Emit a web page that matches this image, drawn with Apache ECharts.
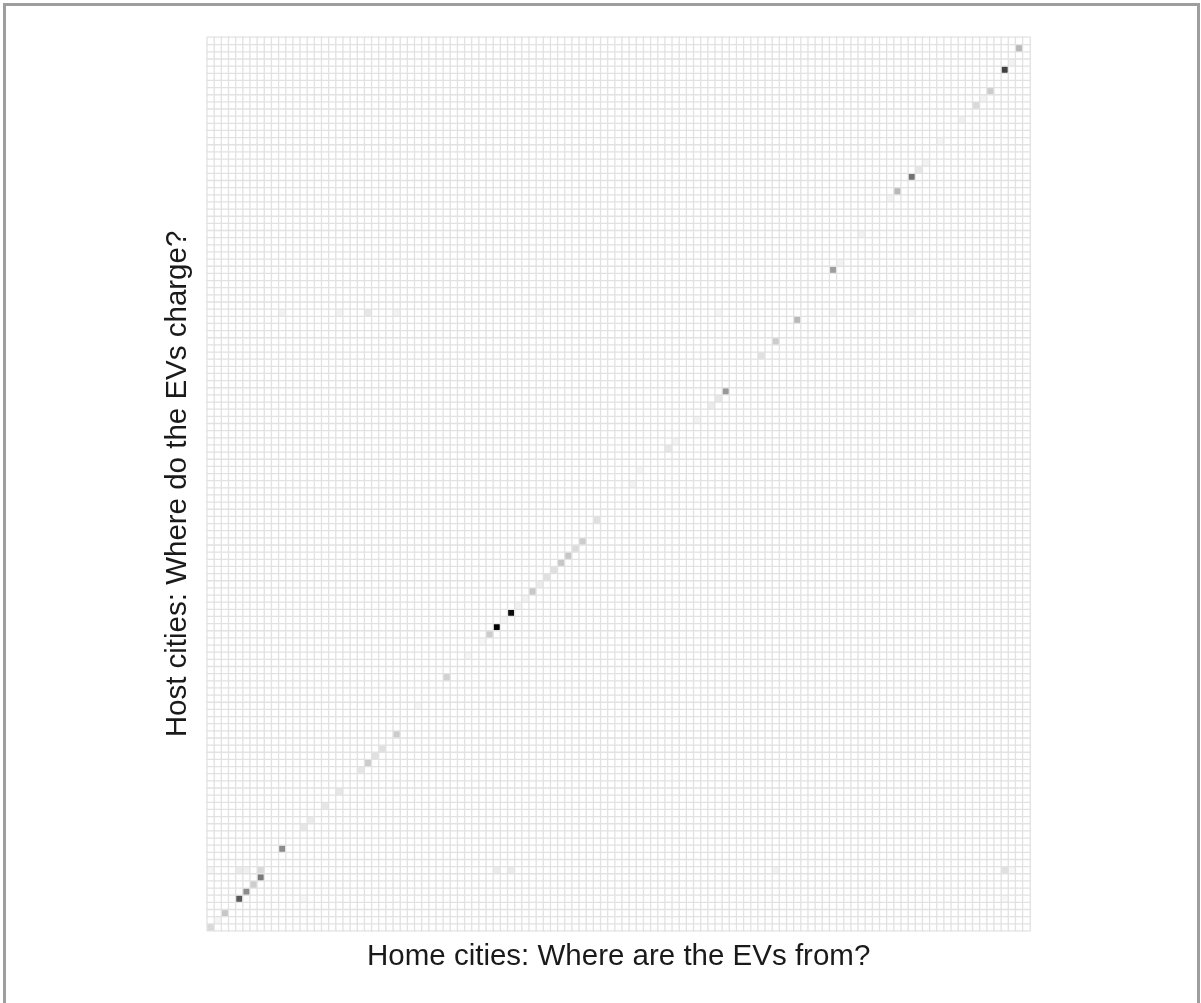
<!DOCTYPE html>
<html>
<head>
<meta charset="utf-8">
<title>EV charging flows between cities</title>
<script src="https://cdn.jsdelivr.net/npm/echarts@6/dist/echarts.min.js"></script>
<style>
  html, body { margin: 0; padding: 0; background: #ffffff; }
  #chart { width: 1201px; height: 1003px; }
</style>
</head>
<body>
<div id="chart"></div>
<script>
// Home cities (x axis) and host cities (y axis); labels are not drawn.
const homeCityCount = 115;
const hostCityCount = 125;
const homeCities = Array.from({ length: homeCityCount }, (_, i) => 'Home ' + (i + 1));
const hostCities = Array.from({ length: hostCityCount }, (_, i) => 'Host ' + (i + 1));

// Charging sessions share (0-100) per [home index, host index]; all other pairs are 0.
const flowCells = [
  [0, 0, 15], [1, 1, 4], [2, 2, 22], [4, 4, 65], [5, 5, 45], [6, 6, 20], [7, 7, 52],
  [13, 4, 3], [111, 4, 3],
  [0, 8, 4], [4, 8, 8], [5, 8, 6], [7, 8, 15], [40, 8, 8], [42, 8, 8], [79, 8, 5], [111, 8, 12], [112, 8, 3],
  [10, 11, 45],
  [13, 14, 10], [14, 15, 8], [16, 17, 10], [18, 19, 10], [21, 22, 10], [22, 23, 20], [23, 24, 12],
  [24, 25, 12], [26, 27, 20], [29, 31, 4], [33, 35, 18], [36, 38, 4], [38, 40, 4], [39, 41, 20],
  [40, 42, 100], [41, 43, 4], [42, 44, 95], [43, 45, 5], [44, 46, 5], [45, 47, 22], [46, 48, 8],
  [47, 49, 12], [48, 50, 12], [49, 51, 22], [50, 52, 22], [51, 53, 14], [52, 54, 20], [54, 57, 12],
  [59, 62, 5], [60, 64, 4], [64, 67, 10], [65, 68, 5], [68, 71, 5], [70, 73, 8], [71, 74, 10],
  [72, 75, 40], [77, 80, 12], [79, 82, 20], [82, 85, 28],
  [10, 86, 5], [18, 86, 5], [22, 86, 10], [26, 86, 5], [46, 86, 3], [71, 86, 4], [87, 86, 4], [98, 86, 4],
  [87, 92, 38], [88, 93, 5], [91, 97, 5], [95, 102, 5], [96, 103, 28], [98, 105, 55], [99, 106, 10],
  [100, 107, 5], [102, 110, 4], [105, 113, 6], [107, 115, 15], [108, 116, 5], [109, 117, 20],
  [111, 120, 75], [112, 121, 5], [113, 123, 28]
];

const xTitle = 'Home cities: Where are the EVs from?';
const yTitle = 'Host cities: Where do the EVs charge?';

// Full matrix so that empty pairs still show as white tiles.
const lookup = new Map(flowCells.map(c => [c[0] + ',' + c[1], c[2]]));
const matrix = [];
for (let i = 0; i < homeCityCount; i++) {
  for (let j = 0; j < hostCityCount; j++) {
    matrix.push([i, j, lookup.get(i + ',' + j) || 0]);
  }
}

const chart = echarts.init(document.getElementById('chart'), null, { renderer: 'canvas' });
const gridLeft = 207.3, gridTop = 37.3, gridWidth = 822.7, gridHeight = 893.4;

chart.setOption({
  animation: false,
  backgroundColor: '#ffffff',
  grid: { left: gridLeft, top: gridTop, width: gridWidth, height: gridHeight },
  xAxis: {
    type: 'category', data: homeCities,
    axisLine: { show: false }, axisTick: { show: false }, axisLabel: { show: false },
    splitLine: { show: false }
  },
  yAxis: {
    type: 'category', data: hostCities,
    axisLine: { show: false }, axisTick: { show: false }, axisLabel: { show: false },
    splitLine: { show: false }
  },
  visualMap: {
    show: false, min: 0, max: 100, dimension: 2,
    inRange: { color: ['#ffffff', '#000000'] }
  },
  series: [{
    type: 'heatmap',
    data: matrix,
    itemStyle: { borderColor: '#e2e2e2', borderWidth: 1.3 },
    emphasis: { disabled: true }
  }],
  graphic: [
    {
      type: 'rect', silent: true,
      shape: { x: 4.5, y: 4.5, width: 1194, height: 1200 },
      style: { fill: 'none', stroke: '#9e9e9e', lineWidth: 3 }
    },
    {
      type: 'text', silent: true, x: gridLeft + gridWidth / 2, y: 957,
      style: {
        text: xTitle, fill: '#1a1a1a', font: '29.5px "Liberation Sans", Arial, sans-serif',
        textAlign: 'center', textVerticalAlign: 'middle'
      }
    },
    {
      type: 'text', silent: true, x: 178, y: gridTop + gridHeight / 2, rotation: Math.PI / 2,
      style: {
        text: yTitle, fill: '#1a1a1a', font: '29.5px "Liberation Sans", Arial, sans-serif',
        textAlign: 'center', textVerticalAlign: 'middle'
      }
    }
  ]
});
</script>
</body>
</html>
